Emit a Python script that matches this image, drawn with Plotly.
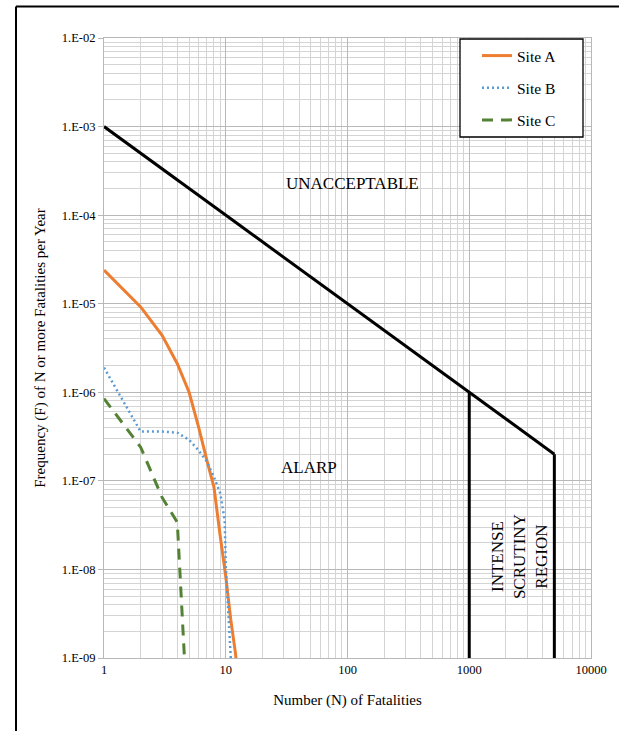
import numpy as np
import plotly.graph_objects as go

# ---------------- data ----------------
N_A = [1, 2, 3, 4, 5, 6, 7, 8, 9, 10, 11, 12, 13]
F_A = [2.4e-5, 9.2e-6, 4.4e-6, 2.1e-6, 1.0e-6, 4.0e-7, 1.7e-7, 8.5e-8, 2.4e-8, 8.3e-9, 2.7e-9, 1.15e-9, 4.0e-10]

N_B = [1, 2, 3, 4, 5, 6, 7, 8, 9, 9.8, 10, 11]
F_B = [1.9e-6, 3.6e-7, 3.6e-7, 3.5e-7, 2.9e-7, 2.2e-7, 1.65e-7, 1.1e-7, 7.3e-8, 3.6e-8, 1.1e-8, 1.0e-9]

N_C = [1, 2, 3, 4, 5]
F_C = [8.5e-7, 2.4e-7, 6.5e-8, 3.4e-8, 1.0e-10]

crit_N = [1, 1000, 5000]
crit_F = [1e-3, 1e-6, 2e-7]
bound1_N = [1000, 1000]
bound1_F = [1e-6, 1e-9]
bound2_N = [5000, 5000]
bound2_F = [2e-7, 1e-9]

x_tickvals = [1, 10, 100, 1000, 10000]
x_ticktext = ["1", "10", "100", "1000", "10000"]
y_tickvals = [1e-9, 1e-8, 1e-7, 1e-6, 1e-5, 1e-4, 1e-3, 1e-2]
y_ticktext = ["1.E-09", "1.E-08", "1.E-07", "1.E-06", "1.E-05", "1.E-04", "1.E-03", "1.E-02"]

# ---------------- layout geometry ----------------
W, H = 619, 731
ML, MR, MT, MB = 104, 28, 38, 73
PW, PH = W - ML - MR, H - MT - MB

def px2paper(px, py):
    return (px - ML) / PW, (H - MB - py) / PH

FONT = "Liberation Serif, Times New Roman, serif"

fig = go.Figure()

fig.add_trace(go.Scatter(x=crit_N, y=crit_F, mode="lines", line=dict(color="black", width=3),
                         showlegend=False, hoverinfo="skip"))
fig.add_trace(go.Scatter(x=bound1_N, y=bound1_F, mode="lines", line=dict(color="black", width=3),
                         showlegend=False, hoverinfo="skip"))
fig.add_trace(go.Scatter(x=bound2_N, y=bound2_F, mode="lines", line=dict(color="black", width=3),
                         showlegend=False, hoverinfo="skip"))

pad = "\u00a0" * 6
fig.add_trace(go.Scatter(x=N_A, y=F_A, mode="lines", name="Site A" + pad, legendgroup="a",
                         line=dict(color="#ED7D31", width=3)))
fig.add_trace(go.Scatter(x=N_B, y=F_B, mode="lines", name="Site B" + pad, legendgroup="b",
                         line=dict(color="#5B9BD5", width=2.5, dash="2px,3px")))
fig.add_trace(go.Scatter(x=N_C, y=F_C, mode="lines", name="Site C" + pad, legendgroup="c",
                         line=dict(color="#548235", width=3, dash="11px,8px")))

minor_x = [m * 10 ** d for d in range(0, 4) for m in range(2, 10)]
minor_y = [m * 10.0 ** d for d in range(-9, -2) for m in range(2, 10)]

fig.update_xaxes(type="log", range=[0, 4], tickvals=x_tickvals, ticktext=x_ticktext,
                 showgrid=True, gridcolor="#b8b8b8", gridwidth=1,
                 showline=True, linecolor="#b8b8b8", linewidth=1, mirror=True,
                 zeroline=False, ticks="",
                 minor=dict(tickvals=minor_x, showgrid=True, gridcolor="#d4d4d4", gridwidth=1, ticks=""),
                 tickfont=dict(family=FONT, size=12.5, color="black"),
                 title=dict(text="Number (N) of Fatalities", font=dict(family=FONT, size=15, color="black"),
                            standoff=18))
fig.update_yaxes(type="log", range=[-9, -2], tickvals=y_tickvals, ticktext=y_ticktext,
                 showgrid=True, gridcolor="#b8b8b8", gridwidth=1,
                 showline=True, linecolor="#b8b8b8", linewidth=1, mirror=True,
                 zeroline=False, ticks="outside", ticklen=5, tickcolor="#b8b8b8",
                 minor=dict(tickvals=minor_y, showgrid=True, gridcolor="#d4d4d4", gridwidth=1, ticks=""),
                 tickfont=dict(family=FONT, size=12.5, color="black"),
                 title=dict(text="Frequency (F) of N or more Fatalities per Year",
                            font=dict(family=FONT, size=15, color="black"), standoff=12))

# legend box drawn as shape
lx0, ly0 = px2paper(460, 137)
lx1, ly1 = px2paper(583, 39)
# frame lines
fx0, fy0 = px2paper(16, 731)
fx1, fy1 = px2paper(619, 6.5)
shapes = [
    dict(type="rect", xref="paper", yref="paper", x0=lx0, y0=ly0, x1=lx1, y1=ly1,
         fillcolor="white", line=dict(color="black", width=1.3), layer="above"),
    dict(type="line", xref="paper", yref="paper", x0=fx0, y0=fy1, x1=fx1, y1=fy1,
         line=dict(color="black", width=2)),
    dict(type="line", xref="paper", yref="paper", x0=fx0, y0=fy0, x1=fx0, y1=fy1,
         line=dict(color="black", width=2)),
]

legx, legy = px2paper(477, 39)

annotations = [
    dict(text="UNACCEPTABLE", x=2.045, y=-3.64, xref="x", yref="y", showarrow=False,
         font=dict(family=FONT, size=17, color="black")),
    dict(text="ALARP", x=1.684, y=-6.844, xref="x", yref="y", showarrow=False,
         font=dict(family=FONT, size=17, color="black")),
    dict(text="INTENSE<br>SCRUTINY<br>REGION", x=3.409, y=-7.86, xref="x", yref="y", showarrow=False,
         textangle=-90, font=dict(family=FONT, size=17, color="black")),
]

fig.update_layout(
    width=W, height=H,
    margin=dict(l=ML, r=MR, t=MT, b=MB, autoexpand=False),
    paper_bgcolor="white", plot_bgcolor="white",
    shapes=shapes, annotations=annotations,
    legend=dict(x=legx, y=legy, xanchor="left", yanchor="top", bgcolor="rgba(0,0,0,0)",
                borderwidth=0, font=dict(family=FONT, size=15.5, color="black"),
                traceorder="grouped", tracegroupgap=9),
    showlegend=True,
)

fig.write_html("out.html", config={"displayModeBar": False},
               post_script="document.body.style.margin='0px';")
